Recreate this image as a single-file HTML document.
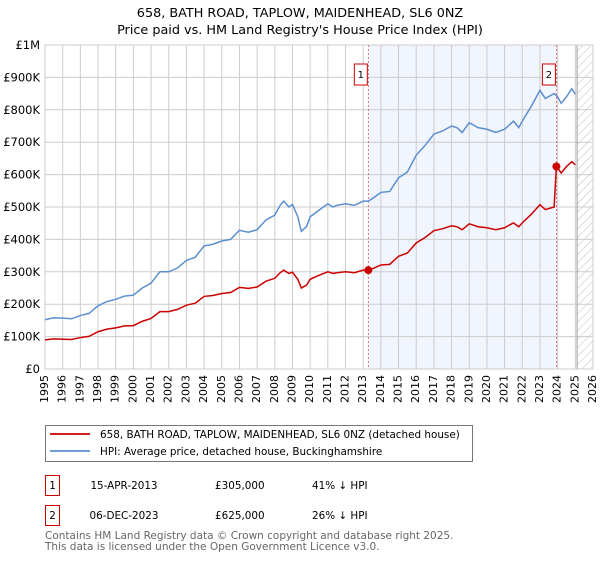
<!DOCTYPE html>
<html><head><meta charset="utf-8"><style>
body{margin:0;background:#fff;font-family:"Liberation Sans","DejaVu Sans",sans-serif;}
svg text{font-family:"DejaVu Sans","Liberation Sans",sans-serif;}
</style></head><body>
<svg id="chart" width="600" height="560" xmlns="http://www.w3.org/2000/svg">
<text x="300" y="17" text-anchor="middle" font-size="12.8">658, BATH ROAD, TAPLOW, MAIDENHEAD, SL6 0NZ</text>
<text x="300" y="34" text-anchor="middle" font-size="12.8">Price paid vs. HM Land Registry's House Price Index (HPI)</text>
<g id="plot"></g>
<g>
<rect x="45.5" y="425.5" width="427" height="36" fill="#fff" stroke="#777"/>
<line x1="50" y1="434" x2="90" y2="434" stroke="#cc0000" stroke-width="1.8"/>
<text x="100" y="438" font-size="10.4">658, BATH ROAD, TAPLOW, MAIDENHEAD, SL6 0NZ (detached house)</text>
<line x1="50" y1="451" x2="90" y2="451" stroke="#5b8fd0" stroke-width="1.8"/>
<text x="100" y="455" font-size="10.4">HPI: Average price, detached house, Buckinghamshire</text>
</g>
<g font-size="10.4">
<rect x="45.5" y="475.5" width="14" height="20" fill="#fff" stroke="#cc0000"/>
<text x="52.5" y="489" text-anchor="middle">1</text>
<text x="124" y="489" text-anchor="middle">15-APR-2013</text>
<text x="215" y="489">£305,000</text>
<text x="312" y="489">41% ↓ HPI</text>
<rect x="45.5" y="505.5" width="14" height="20" fill="#fff" stroke="#cc0000"/>
<text x="52.5" y="519" text-anchor="middle">2</text>
<text x="124" y="519" text-anchor="middle">06-DEC-2023</text>
<text x="215" y="519">£625,000</text>
<text x="312" y="519">26% ↓ HPI</text>
</g>
<text x="45" y="539" font-size="10.5" fill="#666">Contains HM Land Registry data © Crown copyright and database right 2025.</text>
<text x="45" y="550" font-size="10.5" fill="#666">This data is licensed under the Open Government Licence v3.0.</text>
</svg>
<script>
const years=[1995,1995.5,1996,1996.5,1997,1997.5,1998,1998.5,1999,1999.5,2000,2000.5,2001,2001.5,2002,2002.5,2003,2003.5,2004,2004.5,2005,2005.5,2006,2006.5,2007,2007.5,2008,2008.3,2008.5,2008.8,2009,2009.3,2009.5,2009.8,2010,2010.5,2011,2011.3,2011.5,2012,2012.5,2013,2013.29,2013.5,2014,2014.5,2015,2015.5,2016,2016.5,2017,2017.5,2018,2018.3,2018.6,2019,2019.5,2020,2020.5,2021,2021.5,2021.8,2022,2022.5,2023,2023.3,2023.8,2024,2024.2,2024.5,2024.8,2025];
const hpiValues=[152,158,157,155,165,172,195,208,215,225,228,250,265,300,300,312,335,345,380,385,395,400,428,422,430,460,475,505,518,500,508,470,425,440,470,490,510,500,505,510,505,518,518,525,545,548,590,608,660,690,725,735,750,745,730,760,745,740,730,740,765,745,765,810,860,835,850,840,820,840,865,848];
const priceYears=[1995,1995.5,1996,1996.5,1997,1997.5,1998,1998.5,1999,1999.5,2000,2000.5,2001,2001.5,2002,2002.5,2003,2003.5,2004,2004.5,2005,2005.5,2006,2006.5,2007,2007.5,2008,2008.3,2008.5,2008.8,2009,2009.3,2009.5,2009.8,2010,2010.5,2011,2011.3,2011.5,2012,2012.5,2013,2013.29,2013.5,2014,2014.5,2015,2015.5,2016,2016.5,2017,2017.5,2018,2018.3,2018.6,2019,2019.5,2020,2020.5,2021,2021.5,2021.8,2022,2022.5,2023,2023.3,2023.8,2023.93,2024,2024.2,2024.5,2024.8,2025];
const priceValues=[90,93,92,91,97,101,115,123,127,133,134,147,156,177,177,184,197,203,224,227,233,236,252,249,253,271,280,297,305,295,299,277,250,259,277,289,300,295,297,300,297,305,305,309,321,323,348,358,389,406,427,433,442,439,430,448,439,436,430,436,451,439,451,477,507,492,500,625,620,605,625,640,630];
const saleYears=[2013.29,2023.93];
const saleValues=[305,625];
const saleLabels=["1","2"];
const yTicks=[0,100,200,300,400,500,600,700,800,900,1000];
const yTickLabels=["£0","£100K","£200K","£300K","£400K","£500K","£600K","£700K","£800K","£900K","£1M"];
const xTicks=[];for(let y=1995;y<=2026;y++)xTicks.push(y);

const L=45,R=593,T=45,B=369,x0=1995,x1=2026;
const xs=v=>L+(v-x0)/(x1-x0)*(R-L);
const ys=v=>B-v/1000*(B-T);
const NS="http://www.w3.org/2000/svg";
const g=document.getElementById('plot');
function mk(tag,attrs,parent){const e=document.createElementNS(NS,tag);for(const k in attrs)e.setAttribute(k,attrs[k]);(parent||g).appendChild(e);return e;}
const sh=mk('rect',{x:xs(saleYears[0]),y:T,width:xs(saleYears[1])-xs(saleYears[0]),height:B-T,fill:'#eef3fc',opacity:0.8});


const defs=mk('defs',{});
const pat=mk('pattern',{id:'hatch',width:6,height:6,patternUnits:'userSpaceOnUse',patternTransform:'rotate(45)'},defs);
mk('line',{x1:0,y1:0,x2:0,y2:6,stroke:'#bbb','stroke-width':1},pat);
const ht=mk('rect',{x:xs(2025.1),y:T,width:R-xs(2025.1),height:B-T,fill:'url(#hatch)'});


xTicks.forEach(t=>{
 const l=mk('line',{x1:xs(t),x2:xs(t),y1:T,y2:B,stroke:'#ccc','stroke-width':1});
 
 
 const tx=mk('text',{x:xs(t),y:B+6,'font-size':11,'text-anchor':'end',transform:`rotate(-90 ${xs(t)} ${B+6})`,'dominant-baseline':'middle'});
 tx.textContent=t;
 
 
});
yTicks.forEach((t,i)=>{
 const l=mk('line',{x1:L,x2:R,y1:ys(t),y2:ys(t),stroke:'#ccc','stroke-width':1});
 
 
 const tx=mk('text',{x:L-5,y:ys(t)+4,'font-size':11.5,'text-anchor':'end'});
 tx.textContent=yTickLabels[i];
 
 
});
mk('line',{x1:xs(2025.1),x2:xs(2025.1),y1:T,y2:B,stroke:'#999','stroke-width':1});
mk('rect',{x:L,y:T,width:R-L,height:B-T,fill:'none',stroke:'#ccc'});
saleYears.forEach((s,i)=>{
 const l=mk('line',{x1:xs(s),x2:xs(s),y1:T,y2:B,stroke:'#e05050','stroke-width':0.8,'stroke-dasharray':'2,2'});
 
 
 const bx=mk('rect',{x:xs(s)-14,y:64,width:13,height:21,fill:'#fff',stroke:'#cc0000'});
 
 
 const tx=mk('text',{x:xs(s)-7.5,y:78,'font-size':10,'text-anchor':'middle'});
 tx.textContent=saleLabels[i];
 
 
});
const hp=mk('polyline',{points:years.map((y,i)=>xs(y)+','+ys(hpiValues[i])).join(' '),fill:'none',stroke:'#5b8fd0','stroke-width':1.5});


const pp=mk('polyline',{points:priceYears.map((y,i)=>xs(y)+','+ys(priceValues[i])).join(' '),fill:'none',stroke:'#cc0000','stroke-width':1.5});


saleYears.forEach((s,i)=>{
 const c=mk('circle',{cx:xs(s),cy:ys(saleValues[i]),r:4,fill:'#cc0000'});
 
 
});
</script>
</body></html>
